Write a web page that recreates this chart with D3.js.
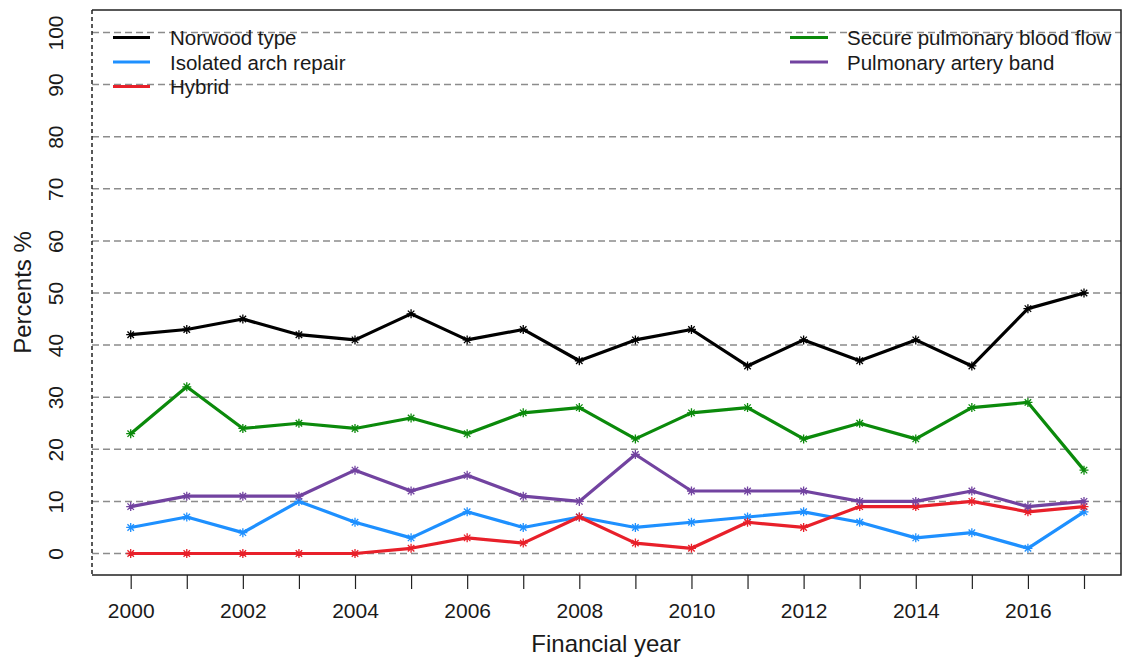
<!DOCTYPE html>
<html>
<head>
<meta charset="utf-8">
<script src="https://cdn.jsdelivr.net/npm/d3@7"></script>
<style>
  body { margin: 0; background: #fff; }
  svg text { font-family: "Liberation Sans", Arial, sans-serif; fill: #1a1a1a; }
</style>
</head>
<body>
<div id="chart"></div>
<script>
// yearly share of each procedure type
const years = d3.range(2000, 2018);
const yTicks = [0, 10, 20, 30, 40, 50, 60, 70, 80, 90, 100];
const xLabelYears = [2000, 2002, 2004, 2006, 2008, 2010, 2012, 2014, 2016];

const seriesNames = ["Norwood type", "Isolated arch repair", "Hybrid",
                     "Secure pulmonary blood flow", "Pulmonary artery band"];
const seriesColors = ["#000000", "#1e90ff", "#e8202a", "#0b8a0b", "#7243a0"];

const norwood = [42, 43, 45, 42, 41, 46, 41, 43, 37, 41, 43, 36, 41, 37, 41, 36, 47, 50];
const archRepair = [5, 7, 4, 10, 6, 3, 8, 5, 7, 5, 6, 7, 8, 6, 3, 4, 1, 8];
const hybrid = [0, 0, 0, 0, 0, 1, 3, 2, 7, 2, 1, 6, 5, 9, 9, 10, 8, 9];
const securePBF = [23, 32, 24, 25, 24, 26, 23, 27, 28, 22, 27, 28, 22, 25, 22, 28, 29, 16];
const paBand = [9, 11, 11, 11, 16, 12, 15, 11, 10, 19, 12, 12, 12, 10, 10, 12, 9, 10];

const seriesValues = [norwood, archRepair, hybrid, securePBF, paBand];

const W = 1123, H = 662;
const box = { left: 92, right: 1121, top: 10, bottom: 575 };

const svg = d3.select("#chart").append("svg")
    .attr("width", W)
    .attr("height", H);

const x = d3.scaleLinear().domain([2000, 2017]).range([130.7, 1084]);
const y = d3.scaleLinear().domain([0, 100]).range([553.5, 32.5]);

// dashed horizontal grid
svg.append("g")
    .selectAll("line")
    .data(yTicks)
    .join("line")
    .attr("x1", box.left)
    .attr("x2", box.right)
    .attr("y1", d => y(d))
    .attr("y2", d => y(d))
    .attr("stroke", "#8c8c8c")
    .attr("stroke-width", 1.5)
    .attr("stroke-dasharray", "7,4");

// plot frame, left side is dashed in the original
svg.append("path")
    .attr("d", `M${box.left},${box.bottom}H${box.right}V${box.top}H${box.left}`)
    .attr("fill", "none")
    .attr("stroke", "#222")
    .attr("stroke-width", 1.5);
svg.append("line")
    .attr("x1", box.left).attr("x2", box.left)
    .attr("y1", box.top).attr("y2", box.bottom)
    .attr("stroke", "#222")
    .attr("stroke-width", 1.5)
    .attr("stroke-dasharray", "4,3");

// x axis: tick every year, label every second year
const xAxis = d3.axisBottom(x)
    .tickValues(years)
    .tickSize(14)
    .tickFormat(d => xLabelYears.includes(d) ? d : "");

const gx = svg.append("g")
    .attr("transform", `translate(0,${box.bottom})`)
    .call(xAxis);
gx.select(".domain").remove();
gx.selectAll(".tick line").attr("stroke", "#222").attr("stroke-width", 1.2);
gx.selectAll(".tick text")
    .attr("y", 28)
    .attr("dy", "0.71em")
    .style("font-size", "21px")
    .style("font-family", "Liberation Sans, Arial, sans-serif")
    .attr("fill", "#1a1a1a");

// y axis labels, rotated like base R
const gy = svg.append("g")
    .attr("transform", "translate(55,0)")
    .call(d3.axisLeft(y).tickValues(yTicks).tickSize(0));
gy.select(".domain").remove();
gy.selectAll(".tick text")
    .attr("x", 0)
    .attr("dy", 0)
    .attr("transform", "rotate(-90)")
    .attr("text-anchor", "middle")
    .attr("dominant-baseline", "central")
    .style("font-size", "21px")
    .style("font-family", "Liberation Sans, Arial, sans-serif")
    .attr("fill", "#1a1a1a");

svg.append("text")
    .attr("x", 606)
    .attr("y", 652)
    .attr("text-anchor", "middle")
    .style("font-size", "24px")
    .text("Financial year");

svg.append("text")
    .attr("transform", `translate(31,${(box.top + box.bottom) / 2}) rotate(-90)`)
    .attr("text-anchor", "middle")
    .style("font-size", "24px")
    .text("Percents %");

// lines
const line = d3.line()
    .x((d, i) => x(years[i]))
    .y(d => y(d));

// asterisk marker (pch 8)
const r = 4.5;
const starPath = `M${-r},0H${r}M0,${-r}V${r}` +
    `M${-r * 0.72},${-r * 0.72}L${r * 0.72},${r * 0.72}` +
    `M${-r * 0.72},${r * 0.72}L${r * 0.72},${-r * 0.72}`;

const seriesG = svg.append("g")
    .selectAll("g")
    .data(seriesValues)
    .join("g");

seriesG.append("path")
    .attr("d", d => line(d))
    .attr("fill", "none")
    .attr("stroke", (d, i) => seriesColors[i])
    .attr("stroke-width", 3.2)
    .attr("stroke-linejoin", "round");

seriesG.each(function(vals, si) {
    d3.select(this).selectAll(".mark")
        .data(vals)
        .join("path")
        .attr("class", "mark")
        .attr("transform", (d, i) => `translate(${x(years[i])},${y(d)})`)
        .attr("d", starPath)
        .attr("stroke", seriesColors[si])
        .attr("stroke-width", 1.3);
});

// legends: two columns
const legendCols = [
    { idx: [0, 1, 2], x1: 113, x2: 150, tx: 170 },
    { idx: [3, 4], x1: 790, x2: 828, tx: 847 }
];

legendCols.forEach(col => {
    const g = svg.append("g");
    col.idx.forEach((si, k) => {
        const yy = 37.5 + k * 24.5;
        g.append("line")
            .attr("x1", col.x1).attr("x2", col.x2)
            .attr("y1", yy).attr("y2", yy)
            .attr("stroke", seriesColors[si])
            .attr("stroke-width", 3);
        g.append("text")
            .attr("x", col.tx)
            .attr("y", yy + 7.5)
            .style("font-size", "20.5px")
            .text(seriesNames[si]);
    });
});
</script>
</body>
</html>
